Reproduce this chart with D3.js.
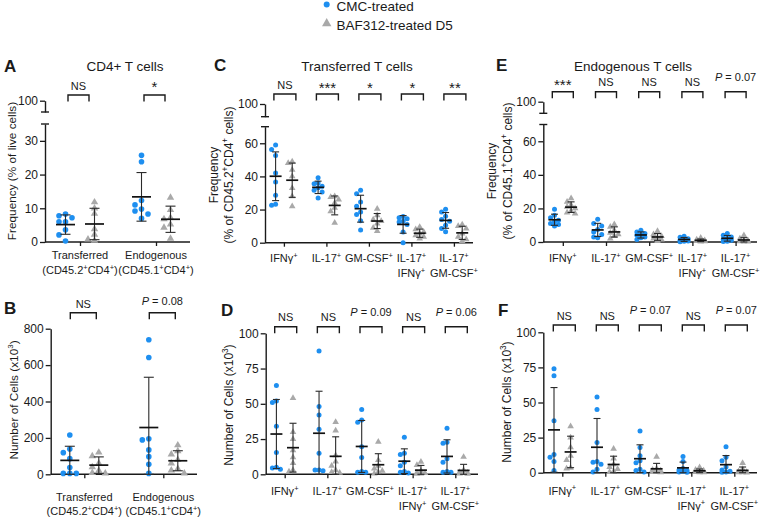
<!DOCTYPE html>
<html><head><meta charset="utf-8">
<script src="https://cdn.jsdelivr.net/npm/d3@7"></script>
<style>body{margin:0;background:#fff}svg{display:block}text{font-family:"Liberation Sans",Arial,sans-serif;fill:#1a1a1a}</style>
</head><body><svg id="chart" width="760" height="531"></svg>
<script>
// ---------------- DATA ----------------
const legendLabels = ["CMC-treated", "BAF312-treated D5"];
const catsAB = ["Transferred", "Endogenous"];
const catsAB2 = ["(CD45.2^+CD4^+)", "(CD45.1^+CD4^+)"];
const cyto1 = ["IFNγ^+", "IL-17^+", "GM-CSF^+", "IL-17^+", "IL-17^+"];
const cyto2 = ["", "", "", "IFNγ^+", "GM-CSF^+"];

const ticksFreqA = [0, 10, 20, 30];
const ticksFreqCE = [0, 20, 40, 60];
const ticksNumB = [0, 200, 400, 600, 800];
const ticksNumDF = [0, 25, 50, 75, 100];
const ticksUpper = [100];

const sigA = ["NS", "*"];
const sigB = ["NS", "P = 0.08"];
const sigC = ["NS", "***", "*", "*", "**"];
const sigD = ["NS", "NS", "P = 0.09", "NS", "P = 0.06"];
const sigE = ["***", "NS", "NS", "NS", "P = 0.07"];
const sigF = ["NS", "NS", "P = 0.07", "NS", "P = 0.07"];

// A: frequency of live cells
const A_cmc = [[8.3,7.8,7.2,6.0,6.0,3.6,2.1,0.3],[25.7,23.8,12.3,11.0,9.8,9.2,8.3,7.0]];
const A_baf = [[11.8,10.0,8.4,3.8,2.2,0.8,0.4],[13.2,9.5,7.2,6.8,5.2,4.3,1.0]];
// B: number of cells (x10^3)
const B_cmc = [[216,139,119,86,37,5,5,5],[739,642,195,189,134,97,55,5]];
const B_baf = [[120,100,60,40,20,8,5],[160,128,110,80,60,30,22,5]];
// C: transferred T cells frequency
const C_cmc = [[59,56.2,52.6,42,36.6,28.6,23.2,22.6],[39.2,36,35.6,34,33.2,31.6,30.6,27],[31.6,29.6,24.6,22,18.6,17,13.2,7.6],[15.8,15,14.5,13,12.5,11,6.5,0],[20.2,18.6,16,14,13,10.6,8.6,6.6]];
const C_baf = [[49,48,44,40,33,28,22],[28,27.5,26,24,21,19,12],[20.5,16.5,14,13,11.5,9,7],[9.5,8,6.5,5.5,4.5,3.5,2.5],[11,10,8.5,5.5,3.5,2,1]];
// D: transferred T cells number
const D_cmc = [[63,52,51,34,15.5,5,4.5,3.5],[87.5,48,42,32,15,3,2.5,3],[46,38.5,37,19.5,12,2,1.5,1.5],[26.3,15,14,8.5,6,2,1.5,1],[32.6,22.7,22,11,8.5,1.9,1.4,1.4]];
const D_baf = [[54,30,25,17,12,8,3,2],[37,31,13.5,9,6,3,1.5,1],[23,10,6,4,2.5,1.5,0.5],[8.8,6.5,2.5,1.2,0.8,0.5,0.3],[12.3,3,1.5,1,0.8,0.5,0.3]];
// E: endogenous T cells frequency
const E_cmc = [[19.5,16,14.5,13,12,11,10.5,9.5],[13.5,11,9.5,7.5,6,4.5,3,2.5],[7,6,5,4.5,4,3,2.5,1.5],[3.5,2.8,2,1.5,1,0.6,0.4,0.2],[5,4,3,2.2,1.6,1,0.5,0.3]];
const E_baf = [[26,24,22,21,20,18.5,17.5,17],[10.5,9,7,5.5,4.5,3.5,2],[6.5,4.5,3.5,2.5,2,1.5,0.5],[2.5,1.5,1,0.8,0.6,0.4,0.2],[4,2,1,0.6,0.4,0.2,0.2]];
// F: endogenous T cells number
const F_cmc = [[74,69,37,13,11,8,1.5],[54,45,21.5,8,7.5,6,2.5,0.5],[29.7,18,12,8.5,7,2.5,1.5,0.5],[11.5,8,3,2,1.5,1,0.5,0.3],[18.5,11,8.5,4,2,1,0.5,0.3]];
const F_baf = [[33,25,18,12,9,3.5,3],[17,10,6,4,2.5,1,0.5],[11.3,3,2,1.5,0.8,0.5,0.3],[3.8,2,1.5,1,0.5,0.3,0.2],[6.8,2.5,1,0.5,0.3,0.2,0.1]];

// ---------------- STYLE ----------------
const BLUE = "#1e8ff0", GRAY = "#a9a9a9", INK = "#1a1a1a";
const FONT = '"Liberation Sans", Arial, sans-serif';
const svg = d3.select("#chart");

function rich(t, str, size){
  const parts = str.split(/(\^.)/).filter(p => p !== "");
  let shifted = false;
  parts.forEach(p => {
    if (p[0] === "^") {
      t.append("tspan").attr("font-size", size*0.68).attr("dy", -size*0.38).text(p.slice(1));
      shifted = true;
    } else {
      const s = t.append("tspan").attr("font-size", size).text(p);
      if (shifted) { s.attr("dy", size*0.38); shifted = false; }
    }
  });
}

function styleAxis(sel){
  sel.attr("font-family", FONT);
  sel.select(".domain").attr("stroke", INK).attr("stroke-width", 1.4);
  sel.selectAll(".tick line").attr("stroke", INK).attr("stroke-width", 1.3);
  sel.selectAll(".tick text").attr("font-size", 12).attr("fill", INK);
}

function dodge(vals, y, lane, r, nl){
  const order = vals.map((v,i)=>i).sort((a,b)=>vals[b]-vals[a]);
  const lanes = [0,-1,1,-2,2].slice(0,nl).map(k=>k*lane);
  const placed = [], off = new Array(vals.length);
  order.forEach(i => {
    const yy = y(vals[i]);
    let best = 0, bestD = -1;
    for (const o of lanes) {
      let dmin = Infinity;
      placed.forEach(p => { const d = Math.hypot(p.x-o, p.y-yy); if (d < dmin) dmin = d; });
      if (dmin >= 2*r*0.95) { best = o; break; }
      if (dmin > bestD) { bestD = dmin; best = o; }
    }
    off[i] = best; placed.push({x: best, y: yy});
  });
  return off;
}

function drawPanel(c){
  const g = svg.append("g");
  const y = d3.scaleLinear().domain(c.dom).range(c.rng);
  const x = d3.scalePoint().domain(d3.range(c.cats.length)).range([c.first, c.last]);
  const fmt = d3.format("d");

  const ya = g.append("g").attr("transform", `translate(${c.axisX},0)`)
    .call(d3.axisLeft(y).tickValues(c.ticks).tickFormat(fmt).tickSize(5).tickPadding(2).tickSizeOuter(0));
  styleAxis(ya);
  if (c.upper) {
    const yu = d3.scaleLinear().domain([96, 100]).range([c.upper[1], c.upper[0]]);
    const yb = g.append("g").attr("transform", `translate(${c.axisX},0)`)
      .call(d3.axisLeft(yu).tickValues(ticksUpper).tickFormat(fmt).tickSize(5).tickPadding(2).tickSizeOuter(0));
    styleAxis(yb);
    [c.upper[1], c.rng[1]].forEach(yy => g.append("line")
      .attr("x1", c.axisX-4).attr("x2", c.axisX+4).attr("y1", yy).attr("y2", yy)
      .attr("stroke", INK).attr("stroke-width", 1.4));
  }
  g.append("line").attr("x1", c.axisX).attr("x2", c.xEnd).attr("y1", c.rng[0]).attr("y2", c.rng[0])
    .attr("stroke", INK).attr("stroke-width", 1.4);
  const xa = g.append("g").attr("transform", `translate(0,${c.rng[0]})`)
    .call(d3.axisBottom(x).tickSize(4).tickFormat(""));
  xa.select(".domain").remove();
  xa.selectAll(".tick line").attr("stroke", INK).attr("stroke-width", 1.3);

  c.cats.forEach((lab, i) => {
    const t1 = g.append("text").attr("x", x(i)).attr("y", c.labY1).attr("text-anchor", "middle");
    rich(t1, lab, c.labSize);
    if (c.cats2[i]) {
      const t2 = g.append("text").attr("x", x(i)).attr("y", c.labY2).attr("text-anchor", "middle");
      rich(t2, c.cats2[i], c.labSize);
    }
  });

  const groups = [
    {data: c.cmc, side: -1, kind: "dot"},
    {data: c.baf, side: 1, kind: "tri"}
  ];
  const tri = d3.symbol().type(d3.symbolTriangle).size(c.triSize);
  groups.slice().reverse().forEach(gr => {
    gr.data.forEach((vals, i) => {
      const cx = x(i) + gr.side*c.off;
      const offs = dodge(vals, y, c.lane, c.r, 3);
      vals.forEach((v, j) => {
        if (gr.kind === "dot") {
          g.append("circle").attr("cx", cx+offs[j]).attr("cy", y(v)).attr("r", c.r).attr("fill", BLUE);
        } else {
          g.append("path").attr("d", tri).attr("transform", `translate(${cx+offs[j]},${y(v)})`).attr("fill", GRAY);
        }
      });
    });
  });
  groups.forEach(gr => {
    gr.data.forEach((vals, i) => {
      const cx = x(i) + gr.side*c.off;
      const m = d3.mean(vals), s = d3.deviation(vals);
      const lo = Math.max(0, m - s), hi = m + s;
      g.append("line").attr("x1", cx).attr("x2", cx).attr("y1", y(lo)).attr("y2", y(hi)).attr("stroke", "#2a2a2a").attr("stroke-width", 1.1);
      [lo, hi].forEach(v => g.append("line").attr("x1", cx-c.cw/2).attr("x2", cx+c.cw/2).attr("y1", y(v)).attr("y2", y(v)).attr("stroke", "#2a2a2a").attr("stroke-width", 1.1));
      g.append("line").attr("x1", cx-c.mw/2).attr("x2", cx+c.mw/2).attr("y1", y(m)).attr("y2", y(m)).attr("stroke", "#111").attr("stroke-width", 1.7);
    });
  });

  c.sig.forEach((s, i) => {
    const l = x(i) + c.br[0], r = x(i) + c.br[1];
    g.append("path").attr("d", `M${l},${c.brY+6.5}V${c.brY}H${r}V${c.brY+6.5}`)
      .attr("fill", "none").attr("stroke", INK).attr("stroke-width", 1.4);
    const tx = (l + r)/2;
    if (s.startsWith("P")) {
      const t = g.append("text").attr("x", tx).attr("y", c.pY).attr("text-anchor", "middle").attr("font-size", 11);
      t.append("tspan").attr("font-style", "italic").text("P");
      t.append("tspan").text(s.slice(1));
    } else if (s === "NS") {
      g.append("text").attr("x", tx).attr("y", c.nsY).attr("text-anchor", "middle").attr("font-size", 11).text(s);
    } else {
      g.append("text").attr("x", tx).attr("y", c.starY).attr("text-anchor", "middle").attr("font-size", 15).text(s);
    }
  });

  c.ytitle.forEach((line, k) => {
    const t = g.append("text").attr("text-anchor", "middle")
      .attr("transform", `translate(${c.ytx[k]},${c.yty}) rotate(-90)`);
    rich(t, line, c.ytSize);
  });
  g.append("text").attr("x", c.letter[1]).attr("y", c.letter[2]).attr("font-size", 17)
    .attr("font-weight", "bold").text(c.letter[0]);
  if (c.title) {
    g.append("text").attr("x", c.title[1]).attr("y", c.title[2]).attr("text-anchor", "middle")
      .attr("font-size", 13.5).text(c.title[0]);
  }
}

const ab = {cats: catsAB, cats2: catsAB2, off: 14.5, lane: 6.5, r: 2.8, triSize: 24, mw: 19, cw: 10, labSize: 11};
const cf = {cats: cyto1, cats2: cyto2, off: 8.3, lane: 4, r: 2.5, triSize: 19, mw: 12, cw: 7, labSize: 11};

drawPanel(Object.assign({}, ab, {
  cmc: A_cmc, baf: A_baf, sig: sigA, dom: [0,35], rng: [242,124], ticks: ticksFreqA, upper: [100.7,112],
  axisX: 45, xEnd: 190, first: 80, last: 156, labY1: 259, labY2: 274, br: [-12, 9], brY: 95,
  nsY: 89.5, starY: 92, pY: 89, ytitle: ["Frequency (% of live cells)"], ytx: [15.5], yty: 171, ytSize: 11.8,
  letter: ["A", 4, 72], title: ["CD4+ T cells", 125, 71]
}));
drawPanel(Object.assign({}, ab, {
  cmc: B_cmc, baf: B_baf, sig: sigB, dom: [0,800], rng: [474.3,328.7], ticks: ticksNumB, upper: null,
  axisX: 50.7, xEnd: 197, first: 84.3, last: 163.3, labY1: 501, labY2: 515, br: [-14, 12], brY: 312.7,
  nsY: 307.5, starY: 310, pY: 304.5, ytitle: ["Number of Cells (x10^3)"], ytx: [17.5], yty: 400, ytSize: 11.8,
  letter: ["B", 4, 314], title: null
}));
drawPanel(Object.assign({}, cf, {
  cmc: C_cmc, baf: C_baf, sig: sigC, dom: [0,70], rng: [242.7,126.7], ticks: ticksFreqCE, upper: [104,116.7],
  axisX: 265, xEnd: 473, first: 283.9, last: 453.9, labY1: 262, labY2: 277, br: [-10, 12], brY: 94,
  nsY: 89, starY: 93, pY: 88, ytitle: ["Frequency", "(% of CD45.2^+CD4^+ cells)"], ytx: [217.5, 232.5], yty: 175, ytSize: 12,
  letter: ["C", 214, 71], title: ["Transferred T cells", 357, 71]
}));
drawPanel(Object.assign({}, cf, {
  cmc: D_cmc, baf: D_baf, sig: sigD, dom: [0,100], rng: [474.3,333.3], ticks: ticksNumDF, upper: null,
  axisX: 265.7, xEnd: 478, first: 284.7, last: 455.3, labY1: 495, labY2: 510, br: [-10, 12], brY: 326.7,
  nsY: 321, starY: 325, pY: 315.7, ytitle: ["Number of Cells (x10^3)"], ytx: [232.5], yty: 405, ytSize: 12,
  letter: ["D", 221, 316], title: null
}));
drawPanel(Object.assign({}, cf, {
  cmc: E_cmc, baf: E_baf, sig: sigE, dom: [0,70], rng: [242,124.5], ticks: ticksFreqCE, upper: [101.7,113.3],
  axisX: 543.3, xEnd: 757, first: 562.8, last: 735.6, labY1: 262, labY2: 277, br: [-10.5, 10.5], brY: 91.7,
  nsY: 86.3, starY: 90, pY: 80.7, ytitle: ["Frequency", "(% of CD45.1^+CD4^+ cells)"], ytx: [496, 511.5], yty: 171, ytSize: 12,
  letter: ["E", 496, 71], title: ["Endogenous T cells", 633, 71]
}));
drawPanel(Object.assign({}, cf, {
  cmc: F_cmc, baf: F_baf, sig: sigF, dom: [0,100], rng: [472.7,332.3], ticks: ticksNumDF, upper: null,
  axisX: 543.3, xEnd: 757, first: 562.3, last: 734.3, labY1: 494.5, labY2: 509.5, br: [-9, 13], brY: 325,
  nsY: 319.5, starY: 323, pY: 313.5, ytitle: ["Number of Cells (x10^3)"], ytx: [511], yty: 402, ytSize: 12,
  letter: ["F", 498, 316], title: null
}));

const lg = svg.append("g");
lg.append("circle").attr("cx", 326.7).attr("cy", 4.5).attr("r", 3).attr("fill", BLUE);
lg.append("text").attr("x", 336.5).attr("y", 10.5).attr("font-size", 13.5).text(legendLabels[0]);
lg.append("path").attr("d", d3.symbol().type(d3.symbolTriangle).size(38)).attr("transform", "translate(326.7,23.5)").attr("fill", GRAY);
lg.append("text").attr("x", 336.5).attr("y", 30).attr("font-size", 13.5).text(legendLabels[1]);
</script></body></html>
